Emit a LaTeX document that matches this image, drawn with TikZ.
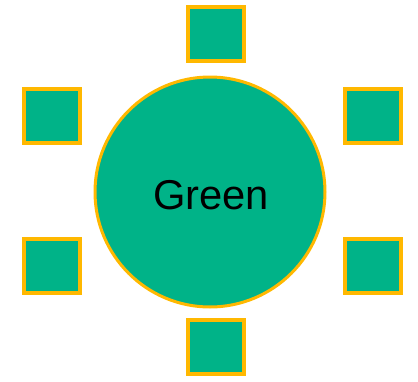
\documentclass[tikz,border=0pt]{standalone}
\usepackage{fontspec}
\setmainfont{Liberation Sans}
\definecolor{fillgreen}{HTML}{00B388}
\definecolor{edgeorange}{HTML}{FFB800}
\begin{document}
\begin{tikzpicture}[x=1pt,y=-1pt,
  box/.style={rectangle,draw=edgeorange,fill=fillgreen,line width=4pt,inner sep=0pt,minimum width=56pt,minimum height=54pt},
  hub/.style={circle,draw=edgeorange,fill=fillgreen,line width=3pt,inner sep=0pt,minimum size=230pt,font=\fontsize{41.7pt}{48pt}\selectfont}]
\useasboundingbox (0,0) rectangle (418,381);
\node[hub] (c) at (210,192) {};
\node (t) at (211,195) {\fontsize{41.7pt}{48pt}\selectfont Green};
\node[box] (n) at (215.5,34) {};
\node[box] (lt) at (52,116) {};
\node[box] (rt) at (373,116) {};
\node[box] (lb) at (52,266) {};
\node[box] (rb) at (373,266) {};
\node[box] (s) at (215.5,346.5) {};
\end{tikzpicture}
\end{document}
